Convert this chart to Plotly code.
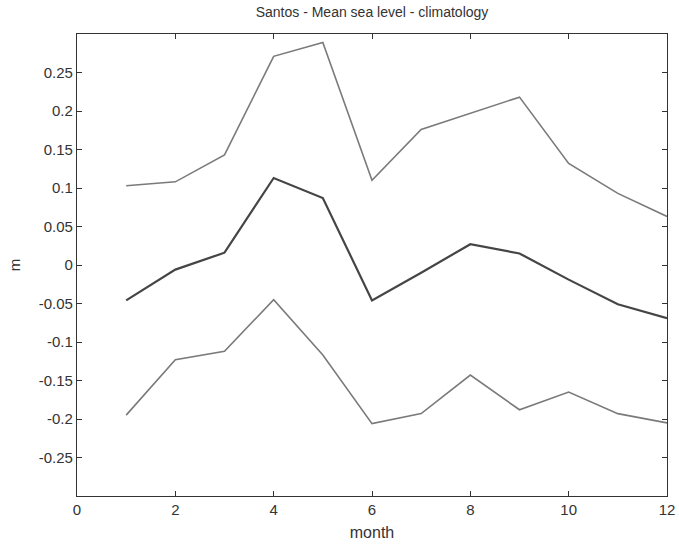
import plotly.graph_objects as go

months = [1, 2, 3, 4, 5, 6, 7, 8, 9, 10, 11, 12]
upper = [0.103, 0.108, 0.143, 0.271, 0.289, 0.110, 0.176, 0.197, 0.218, 0.132, 0.093, 0.063]
mean = [-0.046, -0.006, 0.016, 0.113, 0.087, -0.046, -0.010, 0.027, 0.015, -0.019, -0.051, -0.069]
lower = [-0.195, -0.123, -0.112, -0.045, -0.117, -0.206, -0.193, -0.143, -0.188, -0.165, -0.193, -0.205]

ytick_vals = [-0.25, -0.2, -0.15, -0.1, -0.05, 0, 0.05, 0.1, 0.15, 0.2, 0.25]
ytick_text = ["-0.25", "-0.2", "-0.15", "-0.1", "-0.05", "0", "0.05", "0.1", "0.15", "0.2", "0.25"]
xtick_vals = [0, 2, 4, 6, 8, 10, 12]

FONT = "Liberation Sans, Arial, sans-serif"
TXT = "#333333"

fig = go.Figure()
fig.add_trace(go.Scatter(x=months, y=upper, mode="lines", line=dict(color="#7a7a7a", width=1.6), showlegend=False))
fig.add_trace(go.Scatter(x=months, y=mean, mode="lines", line=dict(color="#454545", width=2.2), showlegend=False))
fig.add_trace(go.Scatter(x=months, y=lower, mode="lines", line=dict(color="#7a7a7a", width=1.6), showlegend=False))

axis_common = dict(
    showline=True, linecolor="#333333", linewidth=1.2, mirror="ticks",
    ticks="inside", ticklen=5, tickcolor="#333333", tickwidth=1,
    showgrid=False, zeroline=False, automargin=False,
    tickfont=dict(family=FONT, size=15, color=TXT),
)

fig.update_layout(
    width=679, height=547,
    margin=dict(l=77, r=12, t=34, b=51),
    paper_bgcolor="white", plot_bgcolor="white",
    title=dict(text="Santos - Mean sea level - climatology", x=0.5, xanchor="center",
               xref="paper", y=1 - 12 / 547, yanchor="middle",
               font=dict(family=FONT, size=14, color=TXT)),
    xaxis=dict(range=[0, 12], tickvals=xtick_vals, ticktext=[str(v) for v in xtick_vals],
               title=dict(text="month", standoff=9, font=dict(family=FONT, size=16, color=TXT)),
               **axis_common),
    yaxis=dict(range=[-0.3, 0.3], tickvals=ytick_vals, ticktext=ytick_text,
               title=dict(text="m", standoff=14, font=dict(family=FONT, size=15, color=TXT)),
               **axis_common),
)

fig.write_html("out.html", config={"displayModeBar": False},
               post_script="document.body.style.margin='0';document.body.style.overflow='hidden';")
